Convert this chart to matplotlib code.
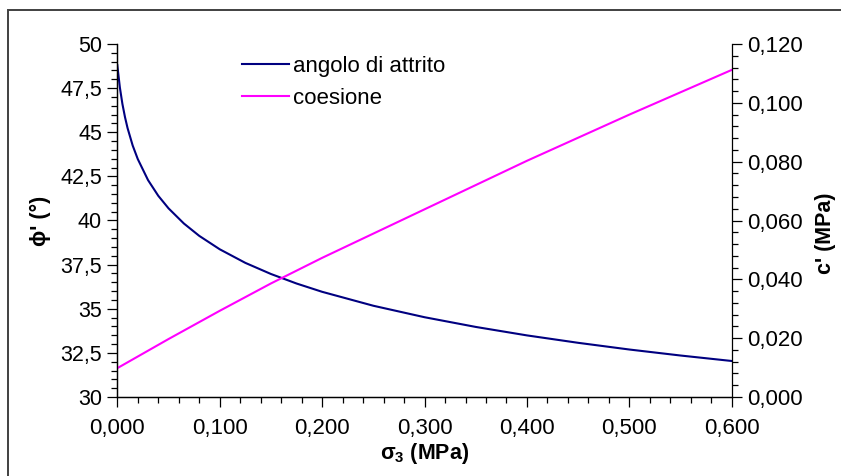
import matplotlib
matplotlib.use("Agg")
import matplotlib.pyplot as plt
from matplotlib.ticker import MultipleLocator, FuncFormatter
from matplotlib.patches import Rectangle

plt.rcParams['font.family'] = ['Liberation Sans', 'DejaVu Sans']
plt.rcParams['mathtext.fontset'] = 'custom'
plt.rcParams['mathtext.rm'] = 'Liberation Sans'
plt.rcParams['mathtext.bf'] = 'Liberation Sans:bold'

# values
sigma_phi = [0.000, 0.0025, 0.005, 0.0075, 0.010, 0.015, 0.020, 0.030, 0.040, 0.050,
             0.065, 0.080, 0.100, 0.125, 0.150, 0.175, 0.200, 0.250, 0.300, 0.350,
             0.400, 0.450, 0.500, 0.550, 0.600]
phi = [48.80, 47.54, 46.60, 45.86, 45.24, 44.25, 43.48, 42.29, 41.40, 40.69,
       39.83, 39.13, 38.37, 37.60, 36.97, 36.43, 35.96, 35.17, 34.52, 33.97,
       33.49, 33.07, 32.69, 32.35, 32.04]

sigma_c = [0.000, 0.050, 0.100, 0.150, 0.200, 0.300, 0.400, 0.500, 0.600]
coes = [0.0098, 0.0197, 0.0293, 0.0386, 0.0473, 0.0638, 0.0803, 0.0960, 0.1112]

fig = plt.figure(figsize=(8.41, 4.76), dpi=100)
ax = fig.add_axes([117.3/841, 1-397/476, 614.5/841, 353/476])
ax2 = ax.twinx()

l1, = ax.plot(sigma_phi, phi, color='#000080', lw=1.5, label='angolo di attrito')
l2, = ax2.plot(sigma_c, coes, color='#FF00FF', lw=1.5, label='coesione')

ax.set_xlim(0, 0.6)
ax.set_ylim(30, 50)
ax2.set_ylim(0, 0.12)

ax.xaxis.set_major_locator(MultipleLocator(0.1))
ax.xaxis.set_minor_locator(MultipleLocator(0.02))
ax.yaxis.set_major_locator(MultipleLocator(2.5))
ax.yaxis.set_minor_locator(MultipleLocator(0.5))
ax2.yaxis.set_major_locator(MultipleLocator(0.02))
ax2.yaxis.set_minor_locator(MultipleLocator(0.004))

ax.xaxis.set_major_formatter(FuncFormatter(lambda v, p: f"{v:.3f}".replace('.', ',')))
ax.yaxis.set_major_formatter(FuncFormatter(lambda v, p: (f"{v:g}").replace('.', ',')))
ax2.yaxis.set_major_formatter(FuncFormatter(lambda v, p: f"{v:.3f}".replace('.', ',')))

for a in (ax, ax2):
    a.spines['top'].set_visible(False)
    for s in a.spines.values():
        s.set_linewidth(0.9)
ax.spines['right'].set_visible(False)

ax.tick_params(axis='x', which='major', direction='out', length=7, width=0.9, pad=8, labelsize=16)
ax.tick_params(axis='x', which='minor', direction='out', length=4, width=0.9)
ax.tick_params(axis='y', which='major', direction='out', length=7, width=0.9, pad=4, labelsize=15.5)
ax.tick_params(axis='y', which='minor', direction='out', length=4, width=0.9)
ax2.tick_params(axis='y', which='major', direction='out', length=7, width=0.9, pad=4, labelsize=16)
ax2.tick_params(axis='y', which='minor', direction='out', length=4, width=0.9)

ax.set_xlabel(r"σ$_{\mathbf{3}}$ (MPa)", fontsize=15.5, fontweight='bold')
ax.xaxis.set_label_coords(0.5, (397-453)/353)
ax.xaxis.label.set_va('center')
ax.set_ylabel("ϕ' (°)", fontsize=15.5, fontweight='bold')
ax.yaxis.set_label_coords((40-117.3)/614.5, 0.5)
ax.yaxis.label.set_va('center')
ax2.set_ylabel("c' (MPa)", fontsize=15.5, fontweight='bold', rotation=90)
ax2.yaxis.set_label_coords((825-117.3)/614.5, (397-233)/353)
ax2.yaxis.label.set_va('center')

fig.legend([l1, l2], ['angolo di attrito', 'coesione'], loc='upper left',
           bbox_to_anchor=(242/841, 1-56/476), frameon=False, fontsize=16,
           handlelength=2.1, handletextpad=0.2, labelspacing=0.5,
           borderpad=0, borderaxespad=0)

# outer chart border
fig.patches.append(Rectangle((8/841, -0.2), 1.2, 1.2 - 9.5/476, transform=fig.transFigure,
                             fill=False, edgecolor='#404040', lw=1.4, clip_on=False))

fig.savefig('out.png', dpi=100)
